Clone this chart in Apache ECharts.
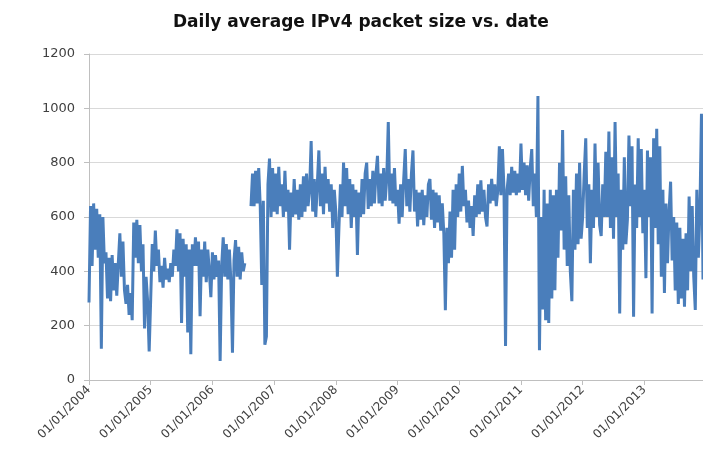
<!DOCTYPE html>
<html>
<head>
<meta charset="utf-8">
<script src="https://cdn.jsdelivr.net/npm/echarts@6/dist/echarts.min.js"></script>
<style>
  html, body { margin: 0; padding: 0; background: #fff; }
  #chart { width: 703px; height: 462px; }
</style>
</head>
<body>
<div id="chart"></div>
<script>
// readings from the picture, ~40 samples per year (null = no data)
var v2004 = [285, 640, 420, 650, 480, 630, 450, 610, 115, 600, 430, 470, 300, 450, 290, 460, 330, 430, 310, 430,
             540, 380, 510, 330, 280, 350, 240, 320, 220, 580, 450, 590, 430, 570, 400, 500, 190, 380, 290, 105];
var v2005 = [300, 500, 400, 550, 420, 480, 360, 420, 340, 450, 370, 410, 360, 430, 380, 480, 420, 555, 400, 540,
             210, 520, 380, 500, 175, 480, 95, 500, 420, 525, 420, 510, 235, 480, 380, 510, 360, 480, 400, 305];
var v2006 = [470, 370, 460, 380, 440, 70, 420, 525, 380, 500, 370, 480, 360, 100, 440, 515, 380, 490, 370, 470,
             400, 430, null, null, null, 640, 760, 640, 770, 650, 780, 640, 350, 660, 130, 160, 720, 815, 600, 780];
var v2007 = [620, 760, 610, 785, 640, 720, 600, 770, 620, 700, 480, 690, 600, 740, 610, 700, 590, 720, 600, 750,
             620, 760, 640, 700, 880, 620, 740, 600, 720, 845, 640, 760, 610, 785, 650, 740, 620, 720, 560, 700];
var v2008 = [620, 380, 560, 720, 600, 800, 640, 780, 610, 740, 560, 720, 600, 700, 460, 690, 600, 740, 610, 760,
             800, 630, 740, 640, 770, 650, 760, 825, 650, 760, 640, 780, 660, 740, 950, 660, 760, 650, 780, 640];
var v2009 = [700, 575, 720, 600, 740, 850, 640, 740, 620, 760, 845, 620, 700, 565, 690, 590, 700, 570, 680, 600,
             720, 740, 590, 700, 560, 690, 580, 680, 550, 650, 540, 257, 560, 430, 620, 450, 700, 480, 720, 600];
var v2010 = [760, 620, 788, 640, 700, 580, 660, 560, 640, 530, 680, 600, 720, 610, 735, 620, 700, 600, 565, 720,
             650, 740, 660, 720, 640, 700, 860, 680, 850, 700, 125, 700, 760, 680, 785, 690, 770, 680, 760, 690];
var v2011 = [870, 700, 800, 680, 790, 660, 780, 850, 640, 760, 600, 1045, 110, 600, 260, 700, 220, 650, 210, 700,
             300, 680, 330, 700, 450, 800, 550, 920, 480, 750, 420, 680, 400, 290, 700, 480, 760, 500, 800, 520];
var v2012 = [600, 760, 890, 560, 720, 430, 700, 560, 870, 600, 800, 570, 530, 720, 600, 840, 600, 915, 560, 820,
             520, 950, 600, 760, 245, 700, 480, 820, 500, 590, 900, 640, 860, 233, 720, 560, 890, 600, 850, 540];
var v2013 = [700, 375, 845, 600, 820, 245, 890, 560, 925, 500, 860, 380, 700, 320, 650, 430, 620, 730, 440, 600,
             330, 580, 280, 560, 300, 520, 270, 540, 330, 675, 400, 640, 380, 258, 700, 450, 620, 980, 370];

var years = [2004, 2005, 2006, 2007, 2008, 2009, 2010, 2011, 2012, 2013];
var yearValues = [v2004, v2005, v2006, v2007, v2008, v2009, v2010, v2011, v2012, v2013];
var yTicks = [0, 200, 400, 600, 800, 1000, 1200];

var data = [];
years.forEach(function (y, k) {
    yearValues[k].forEach(function (v, i) {
        data.push([y + i / 40, v]);
    });
});

var chart = echarts.init(document.getElementById('chart'));

var option = {
    backgroundColor: '#fff',
    animation: false,
    title: {
        text: 'Daily average IPv4 packet size vs. date',
        left: 168,
        top: 9,
        textStyle: {
            fontFamily: 'DejaVu Sans',
            fontSize: 17,
            fontWeight: 'bold',
            color: '#111'
        }
    },
    grid: {
        left: 89,
        top: 54,
        right: 0,
        bottom: 82,
        containLabel: false
    },
    xAxis: {
        type: 'value',
        min: 2004,
        max: 2013.95,
        interval: 1,
        axisLine: { show: true, lineStyle: { color: '#bfbfbf', width: 1 } },
        axisTick: { show: true, length: 5, lineStyle: { color: '#bfbfbf' } },
        splitLine: { show: false },
        axisLabel: {
            rotate: 45,
            margin: 8,
            showMaxLabel: false,
            fontFamily: 'DejaVu Sans',
            fontSize: 12,
            color: '#404040',
            formatter: function (v) { return '01/01/' + v; }
        }
    },
    yAxis: {
        type: 'value',
        min: yTicks[0],
        max: yTicks[yTicks.length - 1],
        interval: 200,
        axisLine: { show: true, lineStyle: { color: '#bfbfbf', width: 1 } },
        axisTick: { show: true, length: 5, lineStyle: { color: '#bfbfbf' } },
        splitLine: { show: true, lineStyle: { color: '#d9d9d9', width: 1 } },
        axisLabel: {
            margin: 14,
            fontFamily: 'DejaVu Sans',
            fontSize: 13,
            color: '#404040',
            formatter: function (v) { return String(v); }
        }
    },
    series: [
        {
            type: 'line',
            data: data,
            showSymbol: false,
            connectNulls: false,
            lineStyle: { color: '#4a7ebb', width: 3 },
            itemStyle: { color: '#4a7ebb' }
        }
    ]
};

chart.setOption(option);
</script>
</body>
</html>
